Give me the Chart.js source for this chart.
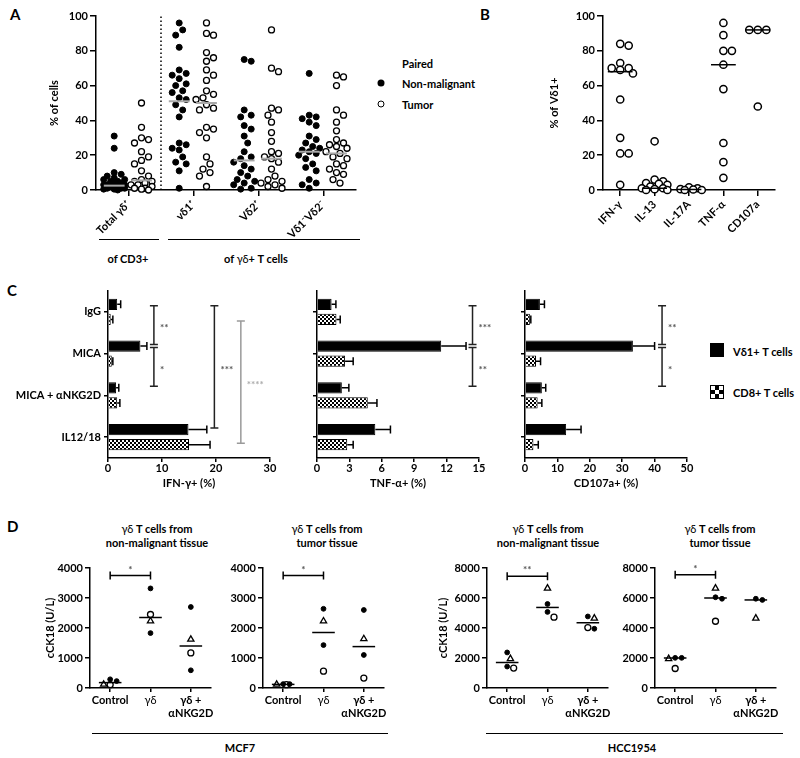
<!DOCTYPE html>
<html lang="en">
<head>
<meta charset="utf-8">
<title>gamma delta T cells</title>
<script src="https://cdn.jsdelivr.net/npm/chart.js@4.4.1/dist/chart.umd.min.js"></script>
<style>
  body { margin: 0; background: #fff; }
  #page { position: relative; width: 800px; height: 758px; overflow: hidden;
          font-family: Lato, "Open Sans", "DejaVu Sans", sans-serif; color: #000; }
  #page canvas { position: absolute; }
  .t { position: absolute; white-space: nowrap; font-size: 11px; font-weight: bold; line-height: 1; }
  .c { transform: translate(-50%, -50%); }
  .m { transform: translateY(-50%); }
  .letter { position: absolute; font-size: 15px; font-weight: bold; }
  .rule { position: absolute; height: 0; border-top: 1.5px solid #000; }
  .dot { position: absolute; width: 7px; height: 7px; border-radius: 50%; box-sizing: border-box; transform: translate(-50%, -50%); }
  .norm { font-weight: normal; }
</style>
</head>
<body>
<div id="page">
  <div class="letter" style="left:10px;top:5px">A</div>
  <div class="letter" style="left:480px;top:5px">B</div>
  <div class="letter" style="left:7px;top:281px">C</div>
  <div class="letter" style="left:7px;top:517px">D</div>

  <!-- legend A -->
  <div class="t m" style="left:402px;top:63px">Paired</div>
  <div class="dot" style="left:381px;top:83px;background:#000"></div>
  <div class="t m" style="left:402px;top:83px">Non-malignant</div>
  <div class="dot" style="left:381px;top:104px;border:1.3px solid #000;background:#fff"></div>
  <div class="t m" style="left:402px;top:104px">Tumor</div>

  <!-- groupings under A -->
  <div class="rule" style="left:99px;top:239px;width:60px"></div>
  <div class="rule" style="left:168px;top:239px;width:192px"></div>
  <div class="t c" style="left:128px;top:258px">of CD3+</div>
  <div class="t c" style="left:256px;top:258px">of <span class="norm">γδ</span>+ T cells</div>

  <!-- legend C -->
  <div style="position:absolute;left:710px;top:343px;width:14px;height:14px;background:#000"></div>
  <div class="t m" style="left:733px;top:351px">Vδ1+ T cells</div>
  <div style="position:absolute;left:710px;top:385px;width:12px;height:12px;border:1px solid #000;background:repeating-conic-gradient(#000 0 25%, #fff 0 50%) 0 0 / 8px 8px"></div>
  <div class="t m" style="left:733px;top:392px">CD8+ T cells</div>

  <!-- titles D -->
  <div class="t c" style="left:157px;top:528px"><span class="norm">γδ</span> T cells from</div>
  <div class="t c" style="left:157px;top:542px">non-malignant tissue</div>
  <div class="t c" style="left:327px;top:528px"><span class="norm">γδ</span> T cells from</div>
  <div class="t c" style="left:327px;top:542px">tumor tissue</div>
  <div class="t c" style="left:548px;top:528px"><span class="norm">γδ</span> T cells from</div>
  <div class="t c" style="left:548px;top:542px">non-malignant tissue</div>
  <div class="t c" style="left:720px;top:528px"><span class="norm">γδ</span> T cells from</div>
  <div class="t c" style="left:720px;top:542px">tumor tissue</div>

  <!-- cell lines D -->
  <div class="rule" style="left:92px;top:733px;width:296px"></div>
  <div class="rule" style="left:486px;top:733px;width:297px"></div>
  <div class="t c" style="left:240px;top:747px">MCF7</div>
  <div class="t c" style="left:632px;top:747px">HCC1954</div>
</div>

<script>
// ==============================
//  데이터
// ==============================

// --- A : % of cells ---
const A_CATS = ['Total γδ⁺', 'vδ1⁺', 'Vδ2⁺', 'Vδ1⁻Vδ2⁻'];
const A_TOTAL_NM = [31, 24, 10, 9, 8, 7, 6, 6, 5, 5, 4, 4, 3, 3, 3, 2, 2, 2, 1, 1, 1, 0.5, 0.5, 0];
const A_TOTAL_TU = [50, 36, 30, 29, 27, 22, 19, 17, 15, 11, 8, 6, 5, 5, 4, 3, 3, 2, 1, 1, 0.5, 0];
const A_VD1_NM = [96, 92, 89, 82, 69, 67, 66, 64, 61, 60, 57, 56, 53, 52, 49, 46, 42, 27, 26, 24, 23, 19, 16, 15, 11, 1];
const A_VD1_TU = [96, 90, 89, 79, 76, 74, 69, 66, 63, 57, 55, 53, 52, 49, 47, 46, 36, 35, 33, 30, 19, 15, 12, 10, 8, 2];
const A_VD2_NM = [75, 74, 46, 43, 42, 37, 35, 31, 27, 22, 19, 18, 16, 14, 12, 10, 8, 6, 5, 4, 3, 1, 0.5];
const A_VD2_TU = [92, 70, 68, 47, 46, 43, 39, 33, 28, 22, 21, 19, 18, 16, 12, 8, 6, 5, 4, 3, 2, 1];
const A_DN_NM = [67, 43, 42, 41, 39, 37, 31, 29, 27, 25, 24, 23, 22, 21, 20, 18, 15, 13, 11, 6, 4, 3, 1];
const A_DN_TU = [66, 65, 60, 46, 43, 39, 34, 29, 27, 26, 25, 24, 22, 21, 19, 18, 15, 14, 12, 10, 9, 6, 4];
const A_MED_NM = [2.5, 51, 17, 22];
const A_MED_TU = [5.5, 50, 18, 21];

// --- B : % of Vδ1+ ---
const B_CATS = ['IFN-γ', 'IL-13', 'IL-17A', 'TNF-α', 'CD107a'];
const B_IFNG = [84, 83, 73, 70, 70, 69, 67, 52, 30, 21, 21, 3];
const B_IL13 = [28, 6, 5, 4, 3.5, 3, 2, 1, 1, 0.5, 0, 0];
const B_IL17A = [1.5, 1, 0.5, 0.3, 0, 0];
const B_TNFA = [96, 89, 80, 80, 72, 58, 27, 16, 7];
const B_CD107A = [92, 92, 92, 48];
const B_MEDIAN = [68, 1, 0.3, 72, 92];

// --- C : 자극 조건별 반응 (평균 + SEM) ---
const C_ROWS = ['IgG', 'MICA', 'MICA + αNKG2D', 'IL12/18'];
const C_IFN_VD1 = [1.7, 6.0, 1.5, 14.9];
const C_IFN_VD1_SEM = [0.65, 1.2, 0.5, 3.4];
const C_IFN_CD8 = [0.5, 0.7, 1.7, 15.0];
const C_IFN_CD8_SEM = [0.4, 0.2, 0.5, 3.9];
const C_TNF_VD1 = [1.35, 11.5, 2.3, 5.4];
const C_TNF_VD1_SEM = [0.4, 2.3, 0.65, 1.4];
const C_TNF_CD8 = [1.8, 2.6, 4.7, 2.8];
const C_TNF_CD8_SEM = [0.35, 0.75, 0.85, 0.55];
const C_CD107_VD1 = [4.6, 33.3, 5.2, 12.7];
const C_CD107_VD1_SEM = [1.4, 6.7, 1.2, 4.6];
const C_CD107_CD8 = [1.5, 3.4, 3.9, 2.6];
const C_CD107_CD8_SEM = [0.3, 1.4, 1.3, 1.5];
// 유의성 표시 : [x값, 시작(dataset,row), 끝(dataset,row), 별표]
const C_IFN_SIG = [[8.5, 0, 0, 0, 1, '**'], [8.5, 0, 1, 0, 2, '*'], [19.7, 0, 0, 0, 3, '***'], [24.6, 1, 0, 1, 3, '****']];
const C_TNF_SIG = [[14.4, 0, 0, 0, 1, '***'], [14.4, 0, 1, 0, 2, '**']];
const C_CD107_SIG = [[42.3, 0, 0, 0, 1, '**'], [42.3, 0, 1, 0, 2, '*']];

// --- D : cCK18 (U/L), 공여자별 ---
const D_GROUPS = ['Control', 'γδ', ['γδ +', 'αNKG2D']];
const D1_FILLED_1 = [230, 3320, 2700];
const D1_FILLED_2 = [290, 1830, 590];
const D1_OPEN = [110, 2450, 1170];
const D1_TRIANGLE = [120, 2230, 1620];
const D1_MEDIAN = [180, 2350, 1400];
const D2_FILLED_1 = [130, 2640, 2600];
const D2_FILLED_2 = [130, 1430, 1100];
const D2_OPEN = [110, 560, 330];
const D2_TRIANGLE = [120, 2230, 1640];
const D2_MEDIAN = [120, 1850, 1380];
const D3_FILLED_1 = [2370, 5600, 4770];
const D3_FILLED_2 = [1430, 5070, 3950];
const D3_OPEN = [1330, 4720, 4030];
const D3_TRIANGLE = [1950, 6650, 4650];
const D3_MEDIAN = [1700, 5370, 4350];
const D4_FILLED_1 = [2010, 6050, 5950];
const D4_FILLED_2 = [2010, 5950, 5870];
const D4_OPEN = [1300, 4450, null];
const D4_TRIANGLE = [1950, 6650, 4650];
const D4_MEDIAN = [2000, 6000, 5870];
// 유의성 : [from, to, y, 별표]
const D1_SIG = [0, 1, 3750, '*'];
const D2_SIG = [0, 1, 3750, '*'];
const D3_SIG = [0, 1, 7450, '**'];
const D4_SIG = [0, 1, 7550, '*'];


// ==============================
//  공통 설정
// ==============================
const FONT = 'Lato, "Open Sans", "DejaVu Sans", sans-serif';
Chart.defaults.font.family = FONT;
Chart.defaults.font.size = 11;
Chart.defaults.color = '#000';
Chart.defaults.animation = false;
Chart.defaults.responsive = false;
Chart.defaults.plugins.legend.display = false;
Chart.defaults.plugins.tooltip.enabled = false;

const BOLD = { size: 11, weight: 'bold' };
const tickGrid = len => ({ drawOnChartArea: false, color: '#000', lineWidth: 1.5, tickLength: len });
const axisLine = { color: '#000', width: 1.5 };

const makeCanvas = (left, top, w, h) => {
  const c = document.createElement('canvas');
  c.width = w; c.height = h;
  c.style.left = left + 'px'; c.style.top = top + 'px';
  document.getElementById('page').appendChild(c);
  return c;
};

// 점들이 겹치지 않도록 좌우로 벌리기 (beeswarm), px 단위 오프셋 반환
const swarm = (values, pxPerY, diam, maxOff) => {
  const step = diam / 2;
  const placed = [];
  const offs = values.map(() => 0);
  const order = values.map((v, i) => i).filter(i => values[i] != null)
    .sort((a, b) => values[b] - values[a]);
  order.forEach(i => {
    const y = values[i] * pxPerY;
    const cands = [0];
    for (let k = step; k <= maxOff; k += step) cands.push(k, -k);
    let best = 0, bestGap = -1;
    for (const x of cands) {
      const gap = placed.reduce((m, p) => Math.min(m, Math.hypot(p.x - x, p.y - y)), Infinity);
      if (gap >= diam) { best = x; break; }
      if (gap > bestGap) { bestGap = gap; best = x; }
    }
    placed.push({ x: best, y });
    offs[i] = best;
  });
  return offs;
};

const columnPoints = (values, cx, pxPerX, pxPerY, diam, maxOff) => {
  const offs = swarm(values, pxPerY, diam, maxOff);
  return values.map((v, i) => ({ x: cx + offs[i] / pxPerX, y: v }));
};

const segment = (cx, half, y, color, width) => ({
  data: [{ x: cx - half, y }, { x: cx + half, y }],
  showLine: true, borderColor: color, borderWidth: width, pointRadius: 0, order: 0, clip: false
});

const catTicks = cats => s => { s.ticks = cats.map((c, i) => ({ value: i })); };

// 막대 끝의 SEM 에러바
const errorBars = {
  id: 'errorBars',
  afterDatasetsDraw(chart) {
    const { ctx } = chart, xs = chart.scales.x;
    ctx.save();
    ctx.strokeStyle = '#000'; ctx.lineWidth = 1.5;
    chart.data.datasets.forEach((ds, di) => {
      chart.getDatasetMeta(di).data.forEach((bar, i) => {
        const x1 = xs.getPixelForValue(ds.data[i] + ds.errors[i]);
        ctx.beginPath();
        ctx.moveTo(bar.x, bar.y); ctx.lineTo(x1, bar.y);
        ctx.moveTo(x1, bar.y - 4); ctx.lineTo(x1, bar.y + 4);
        ctx.stroke();
      });
    });
    ctx.restore();
  }
};

// C 패널 유의성 괄호
const barSig = items => ({
  id: 'barSig',
  afterDatasetsDraw(chart) {
    const { ctx } = chart, xs = chart.scales.x;
    ctx.save();
    ctx.lineWidth = 1.5;
    items.forEach(([xv, d0, r0, d1, r1, txt]) => {
      const light = txt === '****';
      const x = xs.getPixelForValue(xv);
      const y0 = chart.getDatasetMeta(d0).data[r0].y + 1.5;
      const y1 = chart.getDatasetMeta(d1).data[r1].y - 1.5;
      ctx.strokeStyle = light ? '#9a9a9a' : '#222';
      ctx.beginPath();
      ctx.moveTo(x, y0); ctx.lineTo(x, y1);
      ctx.moveTo(x - 4, y0); ctx.lineTo(x + 4, y0);
      ctx.moveTo(x - 4, y1); ctx.lineTo(x + 4, y1);
      ctx.stroke();
      ctx.fillStyle = light ? '#aaa' : '#555';
      ctx.font = 'bold 10px ' + FONT;
      ctx.textAlign = 'left'; ctx.textBaseline = 'middle';
      ctx.fillText(txt, x + 6, (y0 + y1) / 2 + 3);
    });
    ctx.restore();
  }
});

// D 패널 유의성 괄호
const dotSig = ([from, to, yv, txt]) => ({
  id: 'dotSig',
  afterDatasetsDraw(chart) {
    const { ctx, scales: { x, y } } = chart;
    const x0 = x.getPixelForValue(from), x1 = x.getPixelForValue(to), yy = y.getPixelForValue(yv);
    ctx.save();
    ctx.strokeStyle = '#000'; ctx.lineWidth = 1.5;
    ctx.beginPath();
    ctx.moveTo(x0, yy); ctx.lineTo(x1, yy);
    ctx.moveTo(x0, yy - 4); ctx.lineTo(x0, yy + 4);
    ctx.moveTo(x1, yy - 4); ctx.lineTo(x1, yy + 4);
    ctx.stroke();
    ctx.fillStyle = '#555';
    ctx.font = 'bold 10px ' + FONT;
    ctx.textAlign = 'center'; ctx.textBaseline = 'bottom';
    ctx.fillText(txt, (x0 + x1) / 2, yy - 1);
    ctx.restore();
  }
});

// 체크무늬 (CD8+)
const checker = (() => {
  const c = document.createElement('canvas');
  c.width = 4; c.height = 4;
  const g = c.getContext('2d');
  g.fillStyle = '#fff'; g.fillRect(0, 0, 4, 4);
  g.fillStyle = '#000'; g.fillRect(0, 0, 2, 2); g.fillRect(2, 2, 2, 2);
  return g.createPattern(c, 'repeat');
})();


// ==============================
//  A : 조직별 γδ 아형 비율
// ==============================
const A_NM = [A_TOTAL_NM, A_VD1_NM, A_VD2_NM, A_DN_NM];
const A_TU = [A_TOTAL_TU, A_VD1_TU, A_VD2_TU, A_DN_TU];
const aFilled = [], aOpen = [], aMed = [];
A_NM.forEach((vals, i) => aFilled.push(...columnPoints(vals, i - 0.22, 65, 1.74, 7, 12)));
A_TU.forEach((vals, i) => aOpen.push(...columnPoints(vals, i + 0.2, 65, 1.74, 7, 12)));
A_MED_NM.forEach((m, i) => aMed.push(segment(i - 0.22, 0.16, m, '#a8a8a8', 2)));
A_MED_TU.forEach((m, i) => aMed.push(segment(i + 0.2, 0.16, m, '#a8a8a8', 2)));

new Chart(makeCanvas(0, 0, 370, 250), {
  type: 'scatter',
  data: {
    datasets: [
      ...aMed,
      { data: [{ x: 0.5, y: 0 }, { x: 0.5, y: 100 }], showLine: true, borderColor: '#000',
        borderWidth: 1.5, borderDash: [1.5, 2.5], pointRadius: 0, order: 2 },
      { data: aFilled, pointRadius: 3, backgroundColor: '#000', borderColor: '#000', borderWidth: 1, order: 1, clip: false },
      { data: aOpen, pointRadius: 3, backgroundColor: '#fff', borderColor: '#000', borderWidth: 1.3, order: 1, clip: false }
    ]
  },
  options: {
    layout: { padding: { top: 16, right: 14, left: 0, bottom: 0 } },
    scales: {
      x: {
        type: 'linear', min: -0.5, max: 3.5,
        afterBuildTicks: catTicks(A_CATS),
        afterFit: s => { s.height = 60; },
        ticks: { callback: v => A_CATS[v], minRotation: 45, maxRotation: 45, font: BOLD, padding: 2, autoSkip: false },
        grid: tickGrid(6), border: axisLine
      },
      y: {
        min: 0, max: 100,
        afterFit: s => { s.width = 96; },
        ticks: { stepSize: 20, font: BOLD, padding: 2 },
        grid: tickGrid(6), border: axisLine,
        title: { display: true, text: '% of cells', font: BOLD, padding: { top: 48, bottom: 0 } }
      }
    }
  }
});


// ==============================
//  B : Vδ1+ 세포의 사이토카인
// ==============================
const B_VALUES = [B_IFNG, B_IL13, B_IL17A, B_TNFA, B_CD107A];
const bOpen = [];
B_VALUES.forEach((vals, i) => bOpen.push(...columnPoints(vals, i, 34.4, 1.74, 8.5, 14)));

new Chart(makeCanvas(470, 0, 330, 250), {
  type: 'scatter',
  data: {
    datasets: [
      ...B_MEDIAN.map((m, i) => segment(i, 0.36, m, '#000', 1.5)),
      { data: bOpen, pointRadius: 3.6, backgroundColor: '#fff', borderColor: '#000', borderWidth: 1.5, order: 1, clip: false }
    ]
  },
  options: {
    layout: { padding: { top: 16, right: 25, left: 0, bottom: 0 } },
    scales: {
      x: {
        type: 'linear', min: -0.5, max: 4.5,
        afterBuildTicks: catTicks(B_CATS),
        afterFit: s => { s.height = 60; },
        ticks: { callback: v => B_CATS[v], minRotation: 45, maxRotation: 45, font: BOLD, padding: 2, autoSkip: false },
        grid: tickGrid(6), border: axisLine
      },
      y: {
        min: 0, max: 100,
        afterFit: s => { s.width = 133; },
        ticks: { stepSize: 20, font: BOLD, padding: 2 },
        grid: tickGrid(6), border: axisLine,
        title: { display: true, text: '% of Vδ1+', font: BOLD, padding: { top: 78, bottom: 0 } }
      }
    }
  }
});


// ==============================
//  C : IFN-γ / TNF-α / CD107a 막대
// ==============================
const cytokineChart = (left, width, yWidth, max, step, title, vd1, vd1Sem, cd8, cd8Sem, sig, showRows) =>
  new Chart(makeCanvas(left, 280, width, 210), {
    type: 'bar',
    data: {
      labels: C_ROWS,
      datasets: [
        { data: vd1, errors: vd1Sem, backgroundColor: '#000', borderColor: '#000', borderWidth: 1,
          categoryPercentage: 0.72, barPercentage: 0.75 },
        { data: cd8, errors: cd8Sem, backgroundColor: checker, borderColor: '#000', borderWidth: 1,
          categoryPercentage: 0.72, barPercentage: 0.75 }
      ]
    },
    options: {
      indexAxis: 'y',
      layout: { padding: { top: 11, right: width - yWidth - 162, left: 0, bottom: 0 } },
      scales: {
        x: {
          min: 0, max,
          afterFit: s => { s.height = 32; },
          ticks: { stepSize: step, font: BOLD, padding: 0 },
          grid: tickGrid(4), border: axisLine,
          title: { display: true, text: title, font: BOLD, padding: 0 }
        },
        y: {
          afterFit: s => { s.width = yWidth; },
          ticks: { display: showRows, font: BOLD, padding: 3 },
          grid: { ...tickGrid(4), offset: false }, border: axisLine
        }
      }
    },
    plugins: [errorBars, barSig(sig)]
  });

cytokineChart(0, 300, 108, 30, 10, 'IFN-γ+ (%)', C_IFN_VD1, C_IFN_VD1_SEM, C_IFN_CD8, C_IFN_CD8_SEM, C_IFN_SIG, true);
cytokineChart(290, 210, 27, 15, 3, 'TNF-α+ (%)', C_TNF_VD1, C_TNF_VD1_SEM, C_TNF_CD8, C_TNF_CD8_SEM, C_TNF_SIG, false);
cytokineChart(500, 200, 25, 50, 10, 'CD107a+ (%)', C_CD107_VD1, C_CD107_VD1_SEM, C_CD107_CD8, C_CD107_CD8_SEM, C_CD107_SIG, false);


// ==============================
//  D : cCK18 세포사멸
// ==============================
const cellDeathChart = (left, yWidth, max, step, yTitle, titlePad, donors, med, sig) => {
  const pxY = 120 / max, pxX = 121 / 3;
  const pts = [[], [], [], []];
  D_GROUPS.forEach((g, c) => {
    const vals = donors.map(d => d[c]);
    const offs = swarm(vals, pxY, 6.5, 12);
    vals.forEach((v, k) => { if (v != null) pts[k].push({ x: c + offs[k] / pxX, y: v }); });
  });
  return new Chart(makeCanvas(left, 555, yWidth + 133, 170), {
    type: 'scatter',
    data: {
      datasets: [
        ...med.map((m, c) => segment(c, 0.28, m, '#000', 1.5)),
        { data: pts[0].concat(pts[1]), pointRadius: 2.4, backgroundColor: '#000', borderColor: '#000', borderWidth: 1, order: 1, clip: false },
        { data: pts[2], pointRadius: 3, backgroundColor: '#fff', borderColor: '#000', borderWidth: 1.3, order: 1, clip: false },
        { data: pts[3], pointStyle: 'triangle', pointRadius: 3.6, backgroundColor: '#fff', borderColor: '#000', borderWidth: 1.3, order: 1, clip: false }
      ]
    },
    options: {
      layout: { padding: { top: 13, right: 12, left: 0, bottom: 0 } },
      scales: {
        x: {
          type: 'linear', min: -0.5, max: 2.5,
          afterBuildTicks: catTicks(D_GROUPS),
          afterFit: s => { s.height = 37; },
          ticks: { callback: v => D_GROUPS[v], maxRotation: 0, autoSkip: false, padding: 2,
                   font: c => ({ size: 11, weight: c.index === 1 ? 'normal' : 'bold' }) },
          grid: tickGrid(4), border: axisLine
        },
        y: {
          min: 0, max,
          afterFit: s => { s.width = yWidth; },
          ticks: { stepSize: step, font: BOLD, padding: 2, callback: v => String(v) },
          grid: tickGrid(5), border: axisLine,
          title: { display: !!yTitle, text: yTitle, font: BOLD, padding: { top: titlePad, bottom: 0 } }
        }
      }
    },
    plugins: [dotSig(sig)]
  });
};

cellDeathChart(36, 54, 4000, 1000, 'cCK18 (U/L)', 7.4,
  [D1_FILLED_1, D1_FILLED_2, D1_OPEN, D1_TRIANGLE], D1_MEDIAN, D1_SIG);
cellDeathChart(228, 35, 4000, 1000, '', 0,
  [D2_FILLED_1, D2_FILLED_2, D2_OPEN, D2_TRIANGLE], D2_MEDIAN, D2_SIG);
cellDeathChart(436, 51, 8000, 2000, 'cCK18 (U/L)', 0.4,
  [D3_FILLED_1, D3_FILLED_2, D3_OPEN, D3_TRIANGLE], D3_MEDIAN, D3_SIG);
cellDeathChart(620, 35, 8000, 2000, '', 0,
  [D4_FILLED_1, D4_FILLED_2, D4_OPEN, D4_TRIANGLE], D4_MEDIAN, D4_SIG);
</script>
</body>
</html>
